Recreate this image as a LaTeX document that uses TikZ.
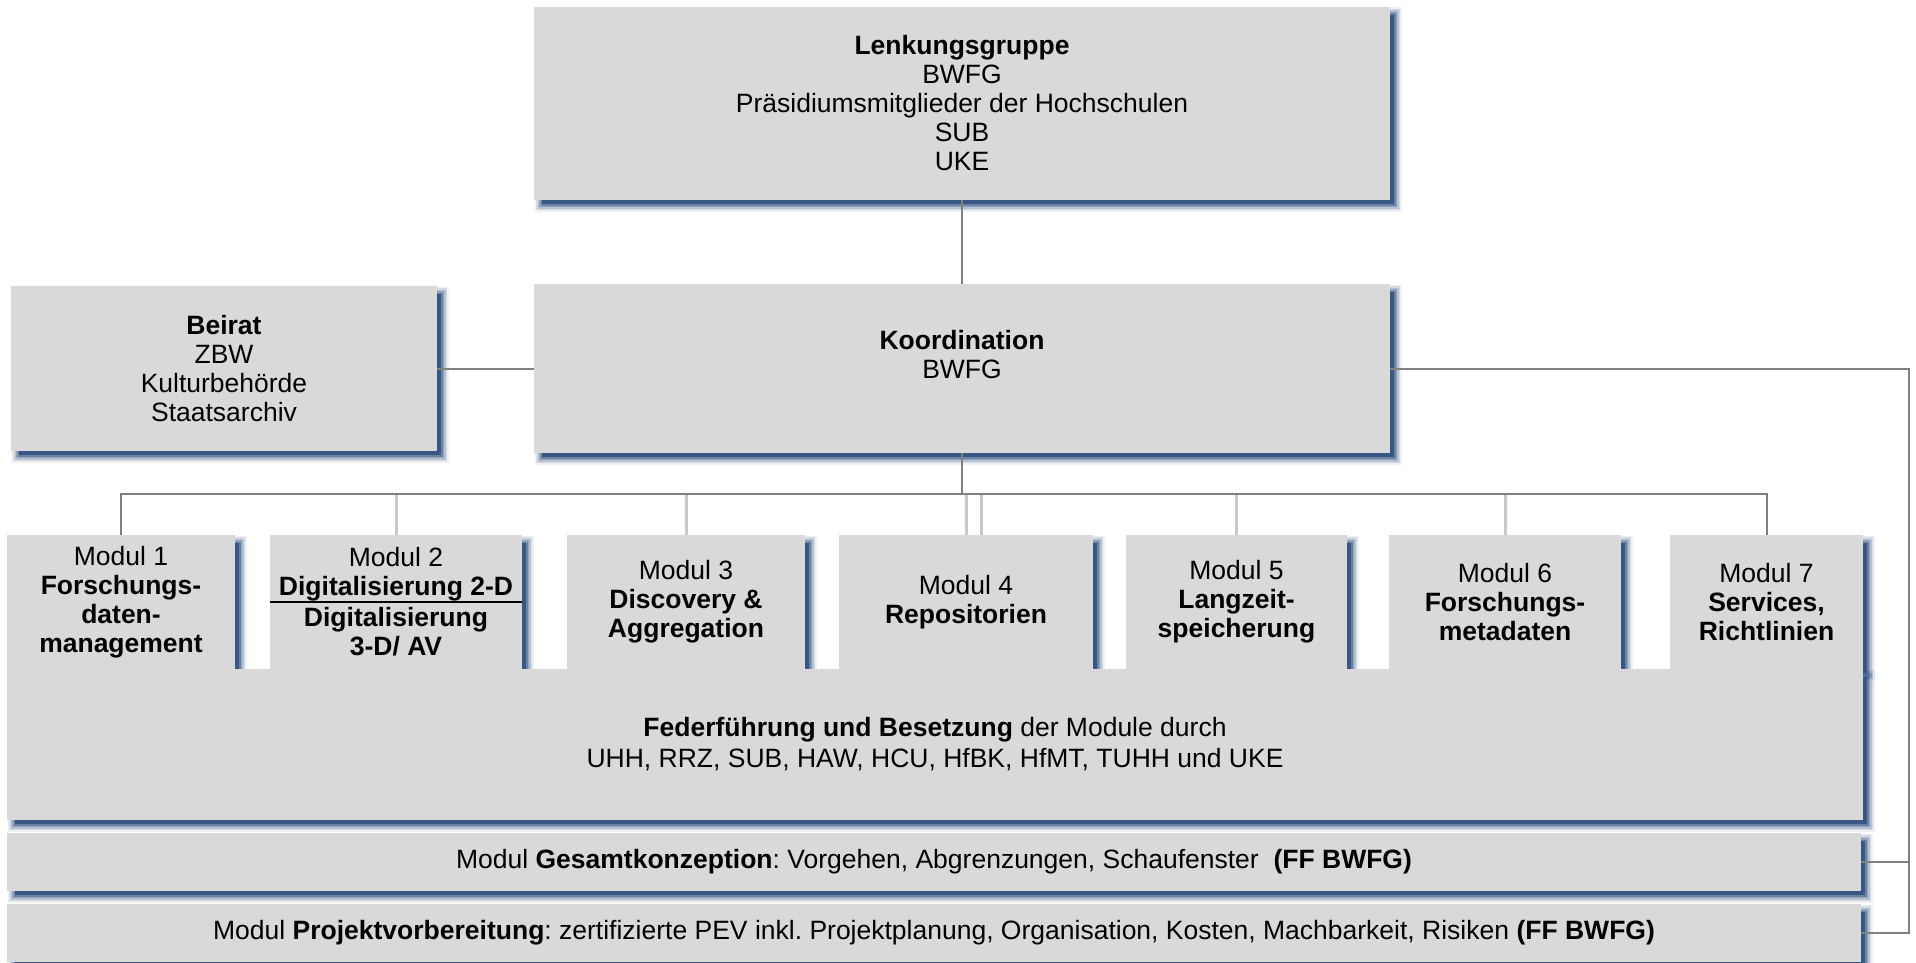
\documentclass[tikz,border=0pt]{standalone}
\usepackage{fontspec}
\setmainfont{Liberation Sans}
\frenchspacing
\usetikzlibrary{calc,positioning,backgrounds}
\definecolor{boxgray}{RGB}{217,217,217}
\definecolor{shadowblue}{RGB}{35,70,120}
\definecolor{linegray}{RGB}{128,128,128}
\definecolor{stemgray}{RGB}{200,200,200}
\tikzset{orgbox/.style={fill=boxgray,inner sep=0pt,outer sep=0pt,align=center,font=\fontsize{26.5}{29}\selectfont}}
\tikzset{modbox/.style={orgbox,minimum height=134pt}}
\tikzset{conn/.style={draw=linegray,line width=2pt}}
\tikzset{stem/.style={draw=stemgray,line width=3pt}}
\newcommand{\boxshadow}[1]{%
  \foreach \r/\o in {0/.7,1.5/.35,3/.25,4.5/.18,6/.12,7.5/.08}
    \fill[shadowblue,opacity=\o] ($(#1.north west)+(8-\r,8-\r)$) rectangle ($(#1.south east)+(4+\r,4+\r)$);}

\begin{document}
\begin{tikzpicture}[x=1pt,y=-1pt]
  \useasboundingbox (0,0) rectangle (1916,963);
  % boxes
  \node[orgbox,minimum width=856pt,minimum height=193pt] (lenk) at (962,103.5)
    {\textbf{Lenkungsgruppe}\\BWFG\\Präsidiumsmitglieder der Hochschulen\\SUB\\UKE};
  \node[orgbox,minimum width=856pt,minimum height=169pt] (koord) at (962,368.5)
    {\textbf{Koordination}\\BWFG\\\mbox{}};
  \node[orgbox,minimum width=426pt,minimum height=165pt] (beirat) at (224,368.5)
    {\textbf{Beirat}\\ZBW\\Kulturbehörde\\Staatsarchiv};
  \node[modbox,minimum width=228pt] (m1) at (121,602)
    {Modul 1\\\textbf{Forschungs-}\\\textbf{daten-}\\\textbf{management}};
  \node[modbox,minimum width=252pt] (m2) at (396,602)
    {Modul 2\\\textbf{Digitalisierung 2-D}\\[2pt]\textbf{Digitalisierung}\\\textbf{3-D/ AV}};
  \node[modbox,minimum width=238pt] (m3) at (686,602)
    {Modul 3\\\textbf{Discovery \&}\\\textbf{Aggregation}};
  \node[modbox,minimum width=254pt] (m4) at (966,602)
    {Modul 4\\\textbf{Repositorien}};
  \node[modbox,minimum width=221pt] (m5) at (1236.5,602)
    {Modul 5\\\textbf{Langzeit-}\\\textbf{speicherung}};
  \node[modbox,minimum width=232pt] (m6) at (1505,602)
    {Modul 6\\\textbf{Forschungs-}\\\textbf{metadaten}};
  \node[modbox,minimum width=193pt] (m7) at (1766.5,602)
    {Modul 7\\\textbf{Services,}\\\textbf{Richtlinien}};
  \node[orgbox,minimum width=1856pt,minimum height=151pt] (fed) at (935,744.5)
    {\textbf{Federführung und Besetzung} der Module durch\\[2pt]UHH, RRZ, SUB, HAW, HCU, HfBK, HfMT, TUHH und UKE};
  \node[orgbox,minimum width=1854pt,minimum height=58pt] (gesamt) at (934,862)
    {Modul \textbf{Gesamtkonzeption}: Vorgehen, Abgrenzungen, Schaufenster\ \ \textbf{(FF BWFG)}};
  \node[orgbox,minimum width=1854pt,minimum height=58pt] (projekt) at (934,933)
    {Modul \textbf{Projektvorbereitung}: zertifizierte PEV inkl. Projektplanung, Organisation, Kosten, Machbarkeit, Risiken \textbf{(FF BWFG)}};
  \draw[black,line width=1.5pt] (m2.west) -- (m2.east);
  % shadows
  \begin{scope}[on background layer]
    \foreach \n in {lenk,koord,beirat,m1,m2,m3,m4,m5,m6,m7,fed,gesamt,projekt}
      \boxshadow{\n};
  \end{scope}
  % connectors
  \coordinate (bus) at (962,494);
  \coordinate (rail) at (1909,368.5);
  \draw[conn] (lenk) -- (koord);
  \draw[conn] (beirat) -- (koord);
  \foreach \m in {m2,m3,m4,m5,m6}
    \draw[stem] (\m.north) -- (\m.north |- bus);
  \draw[stem] ($(m4.north)+(15,0)$) -- ($(m4.north |- bus)+(15,0)$);
  \draw[conn] (koord.south) -- (koord.south |- bus);
  \draw[conn] (m1.north) |- (bus) -| (m7.north);
  \draw[conn] (koord.east) -- (rail) |- (projekt.east);
  \draw[conn] (gesamt.east) -- (gesamt.east -| rail);
\end{tikzpicture}
\end{document}
